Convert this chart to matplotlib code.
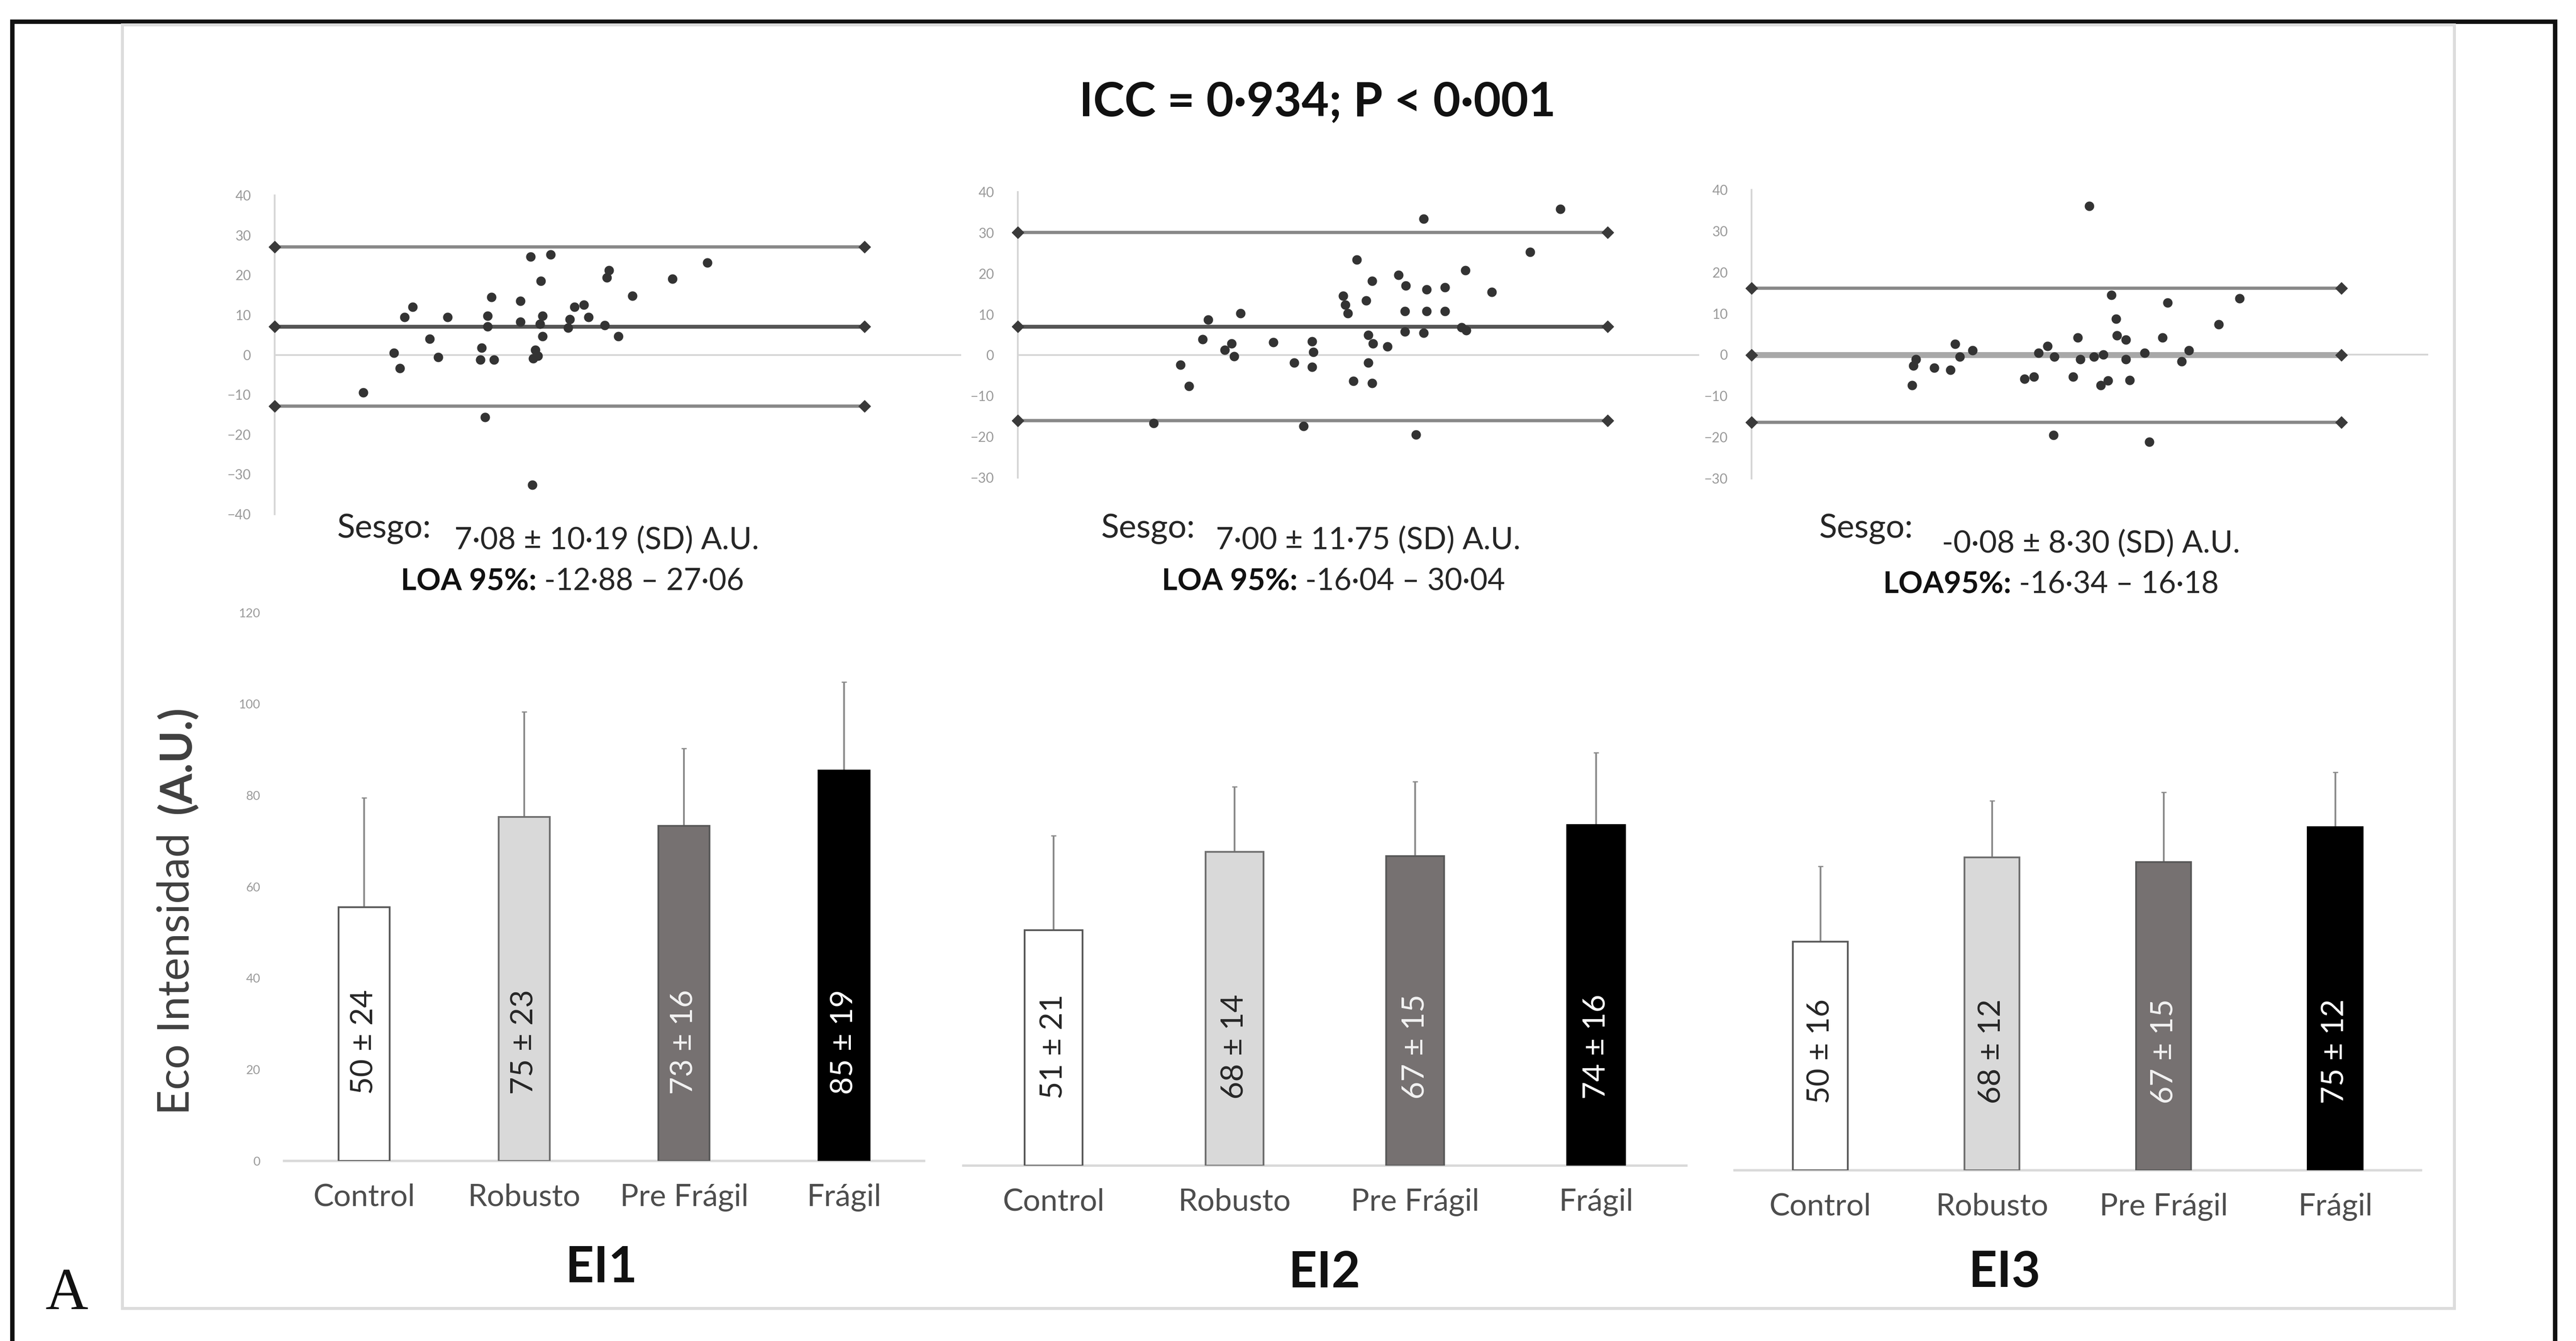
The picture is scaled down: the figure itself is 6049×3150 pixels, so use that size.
import matplotlib
matplotlib.use("Agg")
import matplotlib.pyplot as plt
from matplotlib.patches import Rectangle

plt.rcParams['font.family'] = ['Lato', 'DejaVu Sans']

# ---------------- data ----------------
title = "ICC = 0·934; P < 0·001"
groups = ["Control", "Robusto", "Pre Frágil", "Frágil"]
panel_names = ["EI1", "EI2", "EI3"]

ei1_mean = [55.5, 75.3, 73.3, 85.4]
ei1_err = [24.0, 23.0, 17.0, 19.4]
ei1_lab = ["50 ± 24", "75 ± 23", "73 ± 16", "85 ± 19"]
ei2_mean = [51.5, 68.7, 67.7, 74.5]
ei2_err = [20.7, 14.2, 16.3, 15.9]
ei2_lab = ["51 ± 21", "68 ± 14", "67 ± 15", "74 ± 16"]
ei3_mean = [50.0, 68.5, 67.5, 75.1]
ei3_err = [16.5, 12.4, 15.2, 12.0]
ei3_lab = ["50 ± 16", "68 ± 12", "67 ± 15", "75 ± 12"]

bar_yticks = [0, 20, 40, 60, 80, 100, 120]

# Bland-Altman points (mean, difference)
ba1_x = [21.0, 28.3, 29.7, 30.8, 32.8, 36.8, 38.8, 41.0, 48.8, 49.1, 49.9, 50.5, 50.5,
         51.5, 52.1, 58.3, 58.3, 60.8, 61.2, 61.4, 61.9, 62.5, 63.0, 63.2, 63.6, 63.6,
         65.5, 69.6, 70.1, 71.2, 73.4, 74.5, 78.3, 78.8, 79.4, 81.6, 84.9, 94.4, 102.7]
ba1_y = [-9.4, 0.5, -3.4, 9.5, 12.0, 4.0, -0.6, 9.5, -1.2, 1.8, -15.7, 9.8, 7.1,
         14.5, -1.2, 13.5, 8.3, 24.6, -32.6, -0.9, 1.2, -0.3, 7.7, 18.5, 9.8, 4.6,
         25.2, 6.8, 8.9, 12.0, 12.6, 9.5, 7.4, 19.4, 21.2, 4.6, 14.8, 19.1, 23.1]
ba2_x = [32.2, 38.6, 40.6, 43.9, 45.2, 49.1, 50.7, 51.3, 52.9, 60.6, 65.6, 67.8, 69.8,
         69.8, 70.2, 77.2, 77.7, 78.3, 79.7, 80.5, 82.7, 83.2, 83.2, 84.1, 84.1, 84.3,
         87.7, 90.4, 91.9, 91.9, 92.1, 94.5, 96.3, 96.3, 97.0, 97.0, 101.4, 101.4,
         105.3, 106.2, 106.4, 112.5, 121.6, 128.8]
ba2_y = [-16.6, -2.4, -7.6, 3.9, 8.7, 1.3, 2.9, -0.3, 10.3, 3.2, -1.8, -17.4, 3.4,
         -2.9, 0.8, 14.5, 12.4, 10.3, -6.3, 23.4, 13.4, -1.8, 5.0, 18.2, -6.8, 2.9,
         2.1, 19.7, 10.8, 5.8, 17.1, -19.5, 33.4, 5.5, 16.1, 10.8, 16.6, 10.8,
         6.8, 20.8, 6.1, 15.5, 25.3, 35.8]
ba3_x = [38.1, 38.4, 39.0, 43.4, 47.2, 48.3, 49.4, 52.5, 64.8, 67.0, 68.1, 70.3, 71.7,
         71.9, 76.3, 77.4, 78.0, 80.2, 81.3, 82.9, 83.5, 84.6, 85.4, 86.5, 86.7, 88.9,
         88.9, 89.8, 93.3, 94.4, 97.5, 98.8, 102.1, 103.8, 110.9, 115.8]
ba3_y = [-7.4, -2.6, -1.1, -3.2, -3.7, 2.6, -0.5, 1.1, -5.8, -5.3, 0.5, 2.1, -19.5,
         -0.5, -5.3, 4.2, -1.1, 36.1, -0.5, -7.4, 0.0, -6.3, 14.5, 8.7, 4.7, 3.7,
         -1.1, -6.1, 0.5, -21.1, 4.2, 12.6, -1.6, 1.1, 7.4, 13.7]

bias = [7.08, 7.00, -0.08]
loa_low = [-12.88, -16.04, -16.34]
loa_high = [27.06, 30.04, 16.18]
sesgo_txt = ["7·08 ± 10·19 (SD) A.U.", "7·00 ± 11·75 (SD) A.U.", "-0·08 ± 8·30 (SD) A.U."]
loa_head = ["LOA 95%:", "LOA 95%:", "LOA95%:"]
loa_txt = [" -12·88 – 27·06", " -16·04 – 30·04", " -16·34 – 16·18"]
ba_yticks = [[-40, -30, -20, -10, 0, 10, 20, 30, 40],
             [-30, -20, -10, 0, 10, 20, 30, 40],
             [-30, -20, -10, 0, 10, 20, 30, 40]]
ba_x_span = [0, 140]

# ---------------- layout ----------------
W, H = 6049, 3150
DPI = 100
fig = plt.figure(figsize=(W / DPI, H / DPI), dpi=DPI)
fig.patch.set_facecolor('white')


def ax_px(l, t, r, b):
    return fig.add_axes([l / W, 1 - b / H, (r - l) / W, (b - t) / H])


def fx(x):
    return x / W


def fy(y):
    return 1 - y / H


# outer black frame and inner light frame
fig.patches.append(Rectangle((fx(29), fy(3300)), fx(6000) - fx(29), fy(51) - fy(3300),
                             transform=fig.transFigure, fill=False, ec='#111111', lw=7.5))
fig.patches.append(Rectangle((fx(287), fy(3073)), fx(5763) - fx(287), fy(58) - fy(3073),
                             transform=fig.transFigure, fill=False, ec='#dcdcdc', lw=5))

fig.text(fx(3094), fy(240), title, ha='center', va='center', fontsize=80,
         fontweight='bold', color='#111111')
fig.text(fx(107), fy(3075), "A", ha='left', va='baseline', fontsize=100,
         family='Liberation Serif', color='#111111')

# ---------------- Bland-Altman panels ----------------
ba_boxes = [(645, 459, 2257, 1208), (2390, 451, 3990, 1122), (4113, 446, 5702, 1124)]
ba_ylims = [(-40, 40), (-30, 40), (-30, 40)]
ba_xs = [ba1_x, ba2_x, ba3_x]
ba_ys = [ba1_y, ba2_y, ba3_y]
mean_col = ['#555555', '#555555', '#a8a8a8']
mean_lw = [6.5, 6.5, 10]

for i in range(3):
    l, t, r, b = ba_boxes[i]
    ax = ax_px(l, t, r, b)
    loa_px = 1385
    ax.set_xlim(0, 140 * (r - l) / loa_px)
    ax.set_ylim(*ba_ylims[i])
    for s in ['top', 'right', 'bottom']:
        ax.spines[s].set_visible(False)
    ax.spines['left'].set_color('#d6d6d6')
    ax.spines['left'].set_linewidth(3)
    ax.set_xticks([])
    ax.set_yticks(ba_yticks[i])
    ax.tick_params(axis='y', length=0, pad=40, labelsize=23, labelcolor='#9a9a9a')
    ax.set_facecolor('none')
    ax.axhline(0, color='#d6d6d6', lw=3, zorder=1)
    for val, col, lw in [(loa_high[i], '#888888', 5.5), (loa_low[i], '#888888', 5.5),
                         (bias[i], mean_col[i], mean_lw[i])]:
        ax.plot(ba_x_span, [val, val], color=col, lw=lw, zorder=2, solid_capstyle='butt')
        ax.plot(ba_x_span, [val, val], ls='none', marker='D', ms=14,
                color='#3a3a3a', zorder=3, clip_on=False)
    ax.plot(ba_xs[i], ba_ys[i], ls='none', marker='o', ms=15, color='#333333',
            zorder=4, clip_on=False)

# texts under BA panels
sesgo_pos = [(792, 1242), (2585, 1242), (4271, 1242)]
value_pos = [(1067, 1269), (2855, 1269), (4560, 1277)]
loa_pos = [(941, 1366), (2728, 1366), (4421, 1373)]
renderer = fig.canvas.get_renderer()
for i in range(3):
    fig.text(fx(sesgo_pos[i][0]), fy(sesgo_pos[i][1]), "Sesgo:", ha='left', va='center',
             fontsize=56, color='#262626')
    fig.text(fx(value_pos[i][0]), fy(value_pos[i][1]), sesgo_txt[i], ha='left', va='center',
             fontsize=52, color='#262626')
    th = fig.text(fx(loa_pos[i][0]), fy(loa_pos[i][1]), loa_head[i], ha='left', va='center',
                  fontsize=51, fontweight='bold', color='#111111')
    bb = th.get_window_extent(renderer=renderer)
    fig.text(bb.x1 / W, fy(loa_pos[i][1]), loa_txt[i], ha='left', va='center',
             fontsize=51, color='#262626')

# ---------------- bar panels ----------------
bar_boxes = [(667, 1439, 2170, 2727), (2262, 1450, 3960, 2738), (4073, 1461, 5685, 2749)]
means = [ei1_mean, ei2_mean, ei3_mean]
errs = [ei1_err, ei2_err, ei3_err]
labs = [ei1_lab, ei2_lab, ei3_lab]
fills = ['#ffffff', '#d9d9d9', '#767171', '#000000']
edges = ['#595959', '#6f6f6f', '#595959', '#000000']
lab_cols = ['#262626', '#262626', '#f2f2f2', '#ffffff']
name_pos = [(1412, 2978), (3110, 2990), (4707, 2990)]

for i in range(3):
    l, t, r, b = bar_boxes[i]
    ax = ax_px(l, t, r, b)
    ax.set_facecolor('none')
    xs = list(range(len(groups)))
    ax.bar(xs, means[i], width=0.32, color=fills, edgecolor=edges, linewidth=3, zorder=3)
    ax.errorbar(xs, means[i], yerr=[[0] * 4, errs[i]], fmt='none', ecolor='#8a8a8a',
                elinewidth=3, capsize=4, capthick=2, zorder=2)
    for x, lab, col in zip(xs, labs[i], lab_cols):
        ax.text(x, 26, lab, rotation=90, ha='center', va='center', fontsize=52,
                color=col, zorder=5)
    ax.set_xlim(-0.5, len(groups) - 0.5)
    ax.set_ylim(0, 120)
    for s in ['top', 'right', 'left']:
        ax.spines[s].set_visible(False)
    ax.spines['bottom'].set_color('#d9d9d9')
    ax.spines['bottom'].set_linewidth(4)
    ax.set_xticks(xs)
    ax.set_xticklabels(groups)
    ax.tick_params(axis='x', length=0, pad=38, labelsize=52, labelcolor='#4d4d4d')
    if i == 0:
        ax.set_yticks(bar_yticks)
        ax.tick_params(axis='y', length=0, pad=40, labelsize=21, labelcolor='#9a9a9a')
    else:
        ax.set_yticks([])
    fig.text(fx(name_pos[i][0]), fy(name_pos[i][1]), panel_names[i], ha='center',
             va='center', fontsize=84, fontweight='bold', color='#111111')

# y label
fig.text(fx(415), fy(2619), "Eco Intensidad", rotation=90, ha='center', va='bottom',
         fontsize=74, color='#404040')
fig.text(fx(415), fy(1659), "(A.U.)", rotation=90, ha='center', va='top',
         fontsize=74, fontweight='bold', color='#404040')

fig.savefig("out.png", dpi=DPI, facecolor='white')
